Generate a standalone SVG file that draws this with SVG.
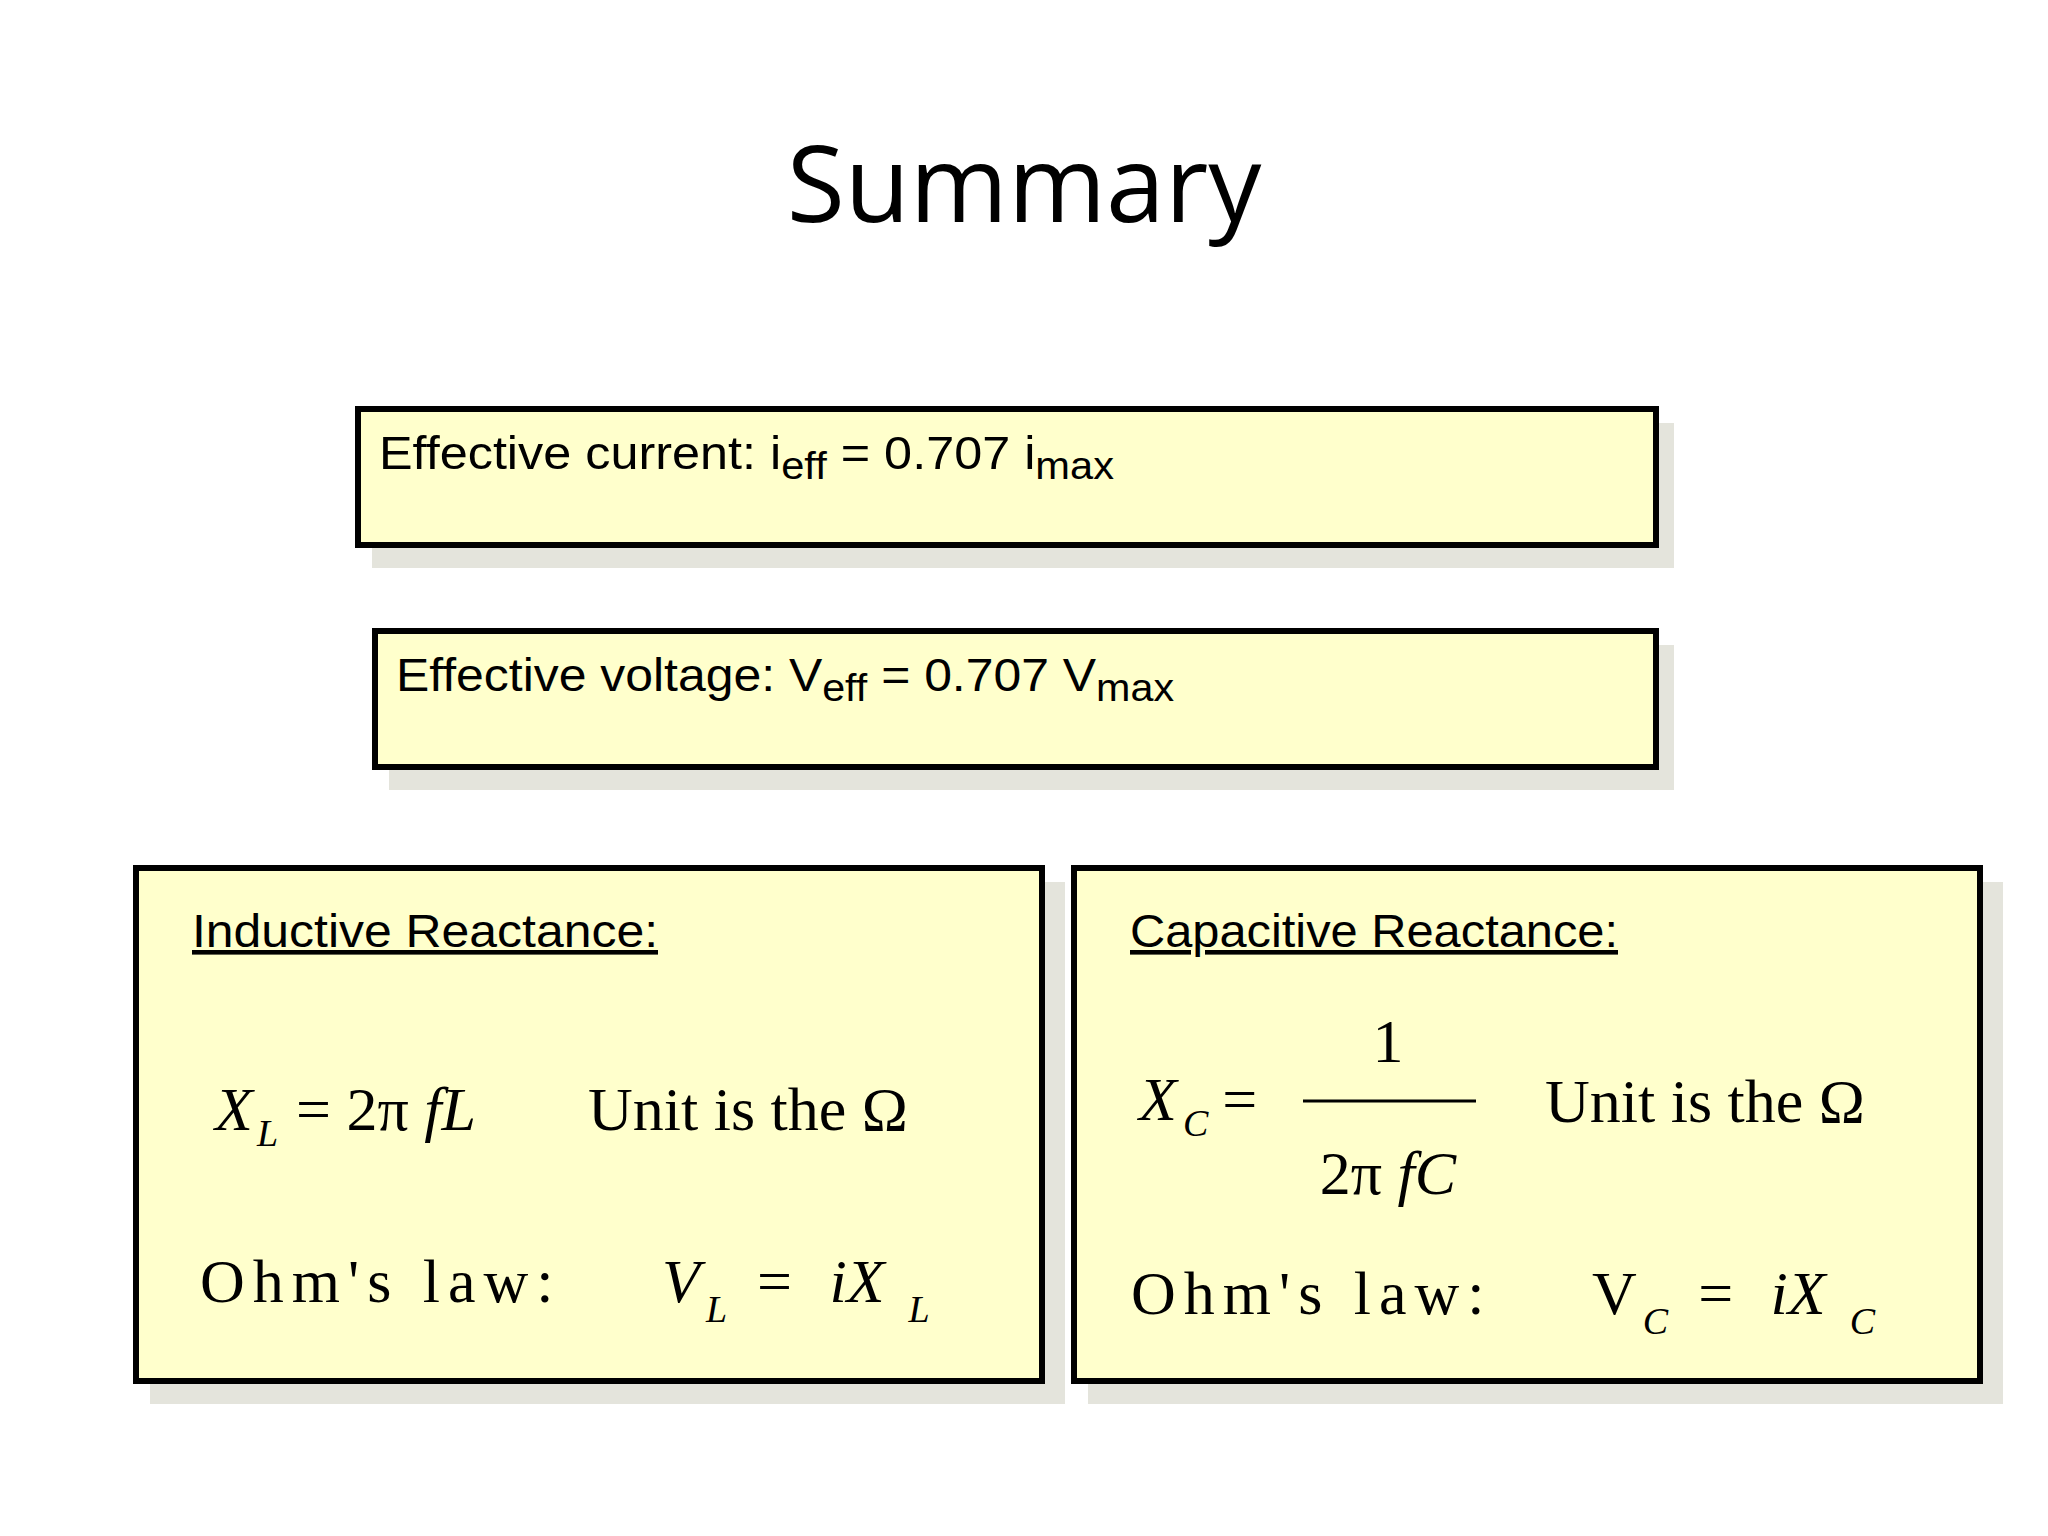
<svg xmlns="http://www.w3.org/2000/svg" width="2048" height="1536" viewBox="0 0 2048 1536">
<style>
.box{fill:#ffffcc;stroke:#000;stroke-width:6}
.sh{fill:#e4e4dc}
.t{font-family:"Liberation Sans",Arial,sans-serif;font-size:46px;fill:#000}
.h{font-family:"Liberation Sans",Arial,sans-serif;font-size:46px;fill:#000;text-decoration:underline}
.m{font-family:"Liberation Serif","Times New Roman",serif;font-size:62px;fill:#000}
.i{font-style:italic}
.s{font-size:38px}
</style>
<rect width="2048" height="1536" fill="#fff"/>
<text x="1024" y="222" text-anchor="middle" font-family="Open Sans,'Noto Sans',sans-serif" font-size="106" fill="#000">Summary</text>
<g id="n1">
<rect class="sh" x="372" y="423" width="1302" height="145"/>
<rect class="box" x="358" y="409" width="1298" height="136"/>
<text class="t" x="379" y="469" textLength="735" lengthAdjust="spacingAndGlyphs">Effective current: i<tspan class="s" dy="10">eff</tspan><tspan dy="-10"> = 0.707 i</tspan><tspan class="s" dy="10">max</tspan></text>
</g>
<g id="n2">
<rect class="sh" x="389" y="645" width="1285" height="145"/>
<rect class="box" x="375" y="631" width="1281" height="136"/>
<text class="t" x="396" y="691" textLength="778" lengthAdjust="spacingAndGlyphs">Effective voltage: V<tspan class="s" dy="10">eff</tspan><tspan dy="-10"> = 0.707 V</tspan><tspan class="s" dy="10">max</tspan></text>
</g>
<g id="n3">
<rect class="sh" x="150" y="882" width="915" height="522"/>
<rect class="box" x="136" y="868" width="906" height="513"/>
<text class="h" x="192" y="947" textLength="466" lengthAdjust="spacingAndGlyphs">Inductive Reactance:</text>
<text class="m" x="215" y="1130"><tspan class="i">X</tspan><tspan class="i s" dx="4" dy="16">L</tspan><tspan dx="18" dy="-16">= 2π </tspan><tspan class="i">fL</tspan></text>
<text class="m" x="588" y="1130">Unit is the Ω</text>
<text class="m" x="200" y="1302" letter-spacing="8">Ohm's law:</text>
<text class="m i" x="662" y="1302">V<tspan class="s" dx="6" dy="20">L</tspan><tspan font-style="normal" dx="30" dy="-20">=</tspan><tspan dx="22"> iX</tspan><tspan class="s" dx="24" dy="20">L</tspan></text>
</g>
<g id="n4">
<rect class="sh" x="1088" y="882" width="915" height="522"/>
<rect class="box" x="1074" y="868" width="906" height="513"/>
<text class="h" x="1130" y="947" textLength="488" lengthAdjust="spacingAndGlyphs">Capacitive Reactance:</text>
<text class="m" x="1139" y="1120"><tspan class="i">X</tspan><tspan class="i s" dx="6" dy="16">C</tspan><tspan dx="14" dy="-16">=</tspan></text>
<text class="m" x="1388" y="1062" text-anchor="middle">1</text>
<line x1="1303" y1="1101" x2="1476" y2="1101" stroke="#000" stroke-width="3"/>
<text class="m" x="1388" y="1194" text-anchor="middle">2π <tspan class="i">fC</tspan></text>
<text class="m" x="1545" y="1122">Unit is the Ω</text>
<text class="m" x="1131" y="1314" letter-spacing="8">Ohm's law:</text>
<text class="m" x="1592" y="1314">V<tspan class="s i" dx="6" dy="20">C</tspan><tspan dx="30" dy="-20">=</tspan><tspan class="i" dx="22"> iX</tspan><tspan class="s i" dx="24" dy="20">C</tspan></text>
</g>
</svg>
